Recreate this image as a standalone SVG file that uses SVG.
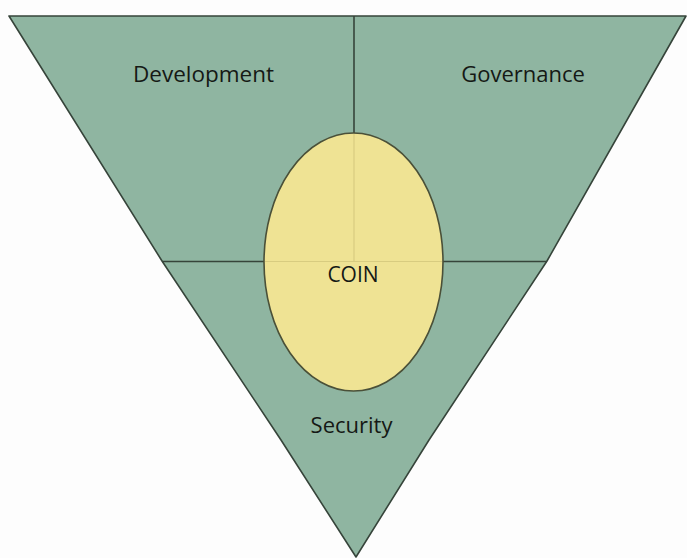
<svg xmlns="http://www.w3.org/2000/svg" width="687" height="558" viewBox="0 0 687 558">
  <style>
    .region { fill: #8fb5a1; stroke: none; }
    .edge { fill: none; stroke: #36443a; stroke-width: 1.6; stroke-linejoin: round; }
    .divider { stroke: #36443a; stroke-width: 1.6; fill: none; }
    .ghost { stroke: #d8cc80; stroke-width: 1.2; fill: none; }
    .core { fill: #efe394; stroke: #4a5038; stroke-width: 1.6; }
    .label { font-family: "Open Sans", "Noto Sans", "DejaVu Sans", sans-serif; font-size: 22px; fill: #151915; text-anchor: middle; }
  </style>

  <rect x="0" y="0" width="687" height="558" fill="#fdfdfd"/>

  <!-- inverted triangle split into three areas -->
  <g id="triangle">
    <polygon class="region" points="9,16 686,16 547,261 429,440 356,557 281,440 162,261"/>
    <polygon class="edge" points="9,16 686,16 547,261 429,440 356,557 281,440 162,261"/>
  </g>

  <g id="connectors">
    <line class="divider" x1="354" y1="16" x2="354" y2="133"/>
    <line class="divider" x1="162" y1="261.5" x2="547" y2="261.5"/>
  </g>

  <g id="development">
    <text class="label" x="203.5" y="82" style="font-size:22.5px">Development</text>
  </g>

  <g id="governance">
    <text class="label" x="523" y="82">Governance</text>
  </g>

  <g id="security">
    <text class="label" x="351.5" y="433">Security</text>
  </g>

  <g id="coin">
    <ellipse class="core" cx="353.5" cy="262" rx="89.5" ry="129"/>
    <line class="ghost" x1="354" y1="134" x2="354" y2="261"/>
    <line class="ghost" x1="265" y1="261.5" x2="442" y2="261.5"/>
    <text class="label" x="353" y="282" style="font-size:21px;font-weight:500">COIN</text>
  </g>
</svg>
